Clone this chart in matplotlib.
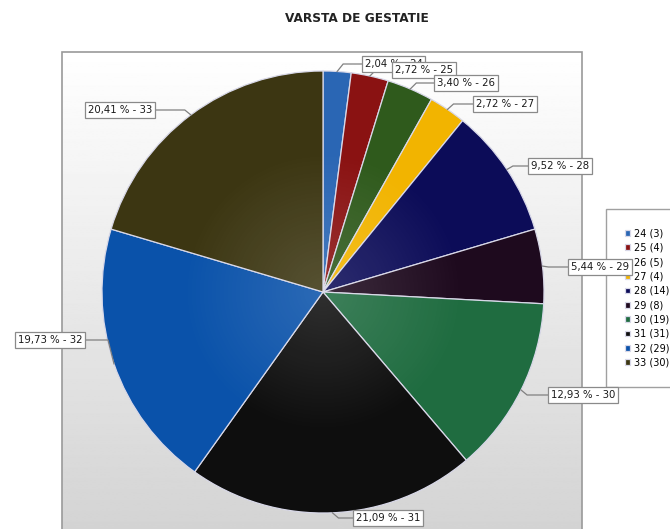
import numpy as np
import matplotlib
matplotlib.use("Agg")
import matplotlib.pyplot as plt
from matplotlib.patches import Rectangle, Circle

# data
ages = ['24', '25', '26', '27', '28', '29', '30', '31', '32', '33']
counts = [3, 4, 5, 4, 14, 8, 19, 31, 29, 30]
colors = ['#2a66b4', '#8a1212', '#2f5a1c', '#f2b400', '#0c0c58',
          '#1e0a1e', '#1f6c40', '#0e0e0e', '#0a52aa', '#3c3612']

# layout (pixels, y down): label box anchor x, center y, side
label_pos = [(362, 64, 'left'), (392, 70, 'left'), (434, 83, 'left'),
             (473, 104, 'left'), (528, 166, 'left'), (568, 267, 'left'),
             (548, 395, 'left'), (353, 518, 'left'), (85, 340, 'right'),
             (155, 110, 'right')]

W, H = 670, 529
cx, cy, R = 323, 292, 221


def Y(y):
    return H - y


fig = plt.figure(figsize=(W / 100, H / 100), dpi=100)
ax = fig.add_axes([0, 0, 1, 1])

# plot area with vertical gradient
grad = np.linspace(1.0, 0.83, 256).reshape(-1, 1)
ax.imshow(grad, cmap='gray', vmin=0, vmax=1, aspect='auto',
          extent=(62, 582, 0, Y(52)), zorder=0)
ax.add_patch(Rectangle((62, -5), 520, Y(52) + 5, fill=False,
                       edgecolor='#9a9a9a', linewidth=1.2, zorder=1))

wedges, _ = ax.pie(counts, colors=colors, startangle=90, counterclock=False,
                   center=(cx, Y(cy)), radius=R,
                   wedgeprops=dict(edgecolor='#d8d8e8', linewidth=0.9))
for w in wedges:
    w.set_zorder(2)

# soft light towards the centre of the pie
g = np.linspace(-1, 1, 300)
gx, gy = np.meshgrid(g, g)
rr = np.hypot(gx, gy)
shade = np.ones((300, 300, 4))
shade[..., 3] = 0.14 * np.clip(1 - rr / 0.65, 0, 1)
im = ax.imshow(shade, extent=(cx - R, cx + R, Y(cy) - R, Y(cy) + R),
               zorder=2.5, interpolation='bilinear')
clip = Circle((cx, Y(cy)), R, transform=ax.transData)
im.set_clip_path(clip)

total = sum(counts)
for w, age, n, (bx, by, side) in zip(wedges, ages, counts, label_pos):
    th = np.radians((w.theta1 + w.theta2) / 2)
    px, py = cx + R * np.cos(th), Y(cy) + R * np.sin(th)
    sgn = 1 if bx > px else -1
    ex = px + 6 * sgn
    ax.plot([px, ex, bx], [py, Y(by), Y(by)], color='#808080', lw=0.9,
            zorder=3, solid_joinstyle='miter')
    txt = f"{100 * n / total:.2f}".replace('.', ',') + f" % - {age}"
    tx = bx + 3 if side == 'left' else bx - 3
    ax.text(tx, Y(by), txt, ha=side, va='center', fontsize=7.3,
            color='#1a1a1a', zorder=7,
            bbox=dict(boxstyle='square,pad=0.25', facecolor='white',
                      edgecolor='#8a8a8a', linewidth=0.9))

ax.set_xlim(0, W)
ax.set_ylim(0, H)
ax.axis('off')

leg = ax.legend(wedges, [f"{a} ({n})" for a, n in zip(ages, counts)],
                loc='upper left', bbox_to_anchor=(601 / W, 1 - 204 / H),
                bbox_transform=fig.transFigure, fontsize=7,
                handlelength=0.5, handleheight=0.5, handletextpad=0.4,
                labelspacing=0.45, borderpad=2.0, frameon=True,
                fancybox=False, edgecolor='#a0a0a0', framealpha=1)
leg.set_zorder(5)

fig.text(357 / W, 1 - 18 / H, 'VARSTA DE GESTATIE', ha='center', va='center',
         fontsize=8.7, fontweight='bold', color='#222222')

fig.savefig('out.png', dpi=100)
